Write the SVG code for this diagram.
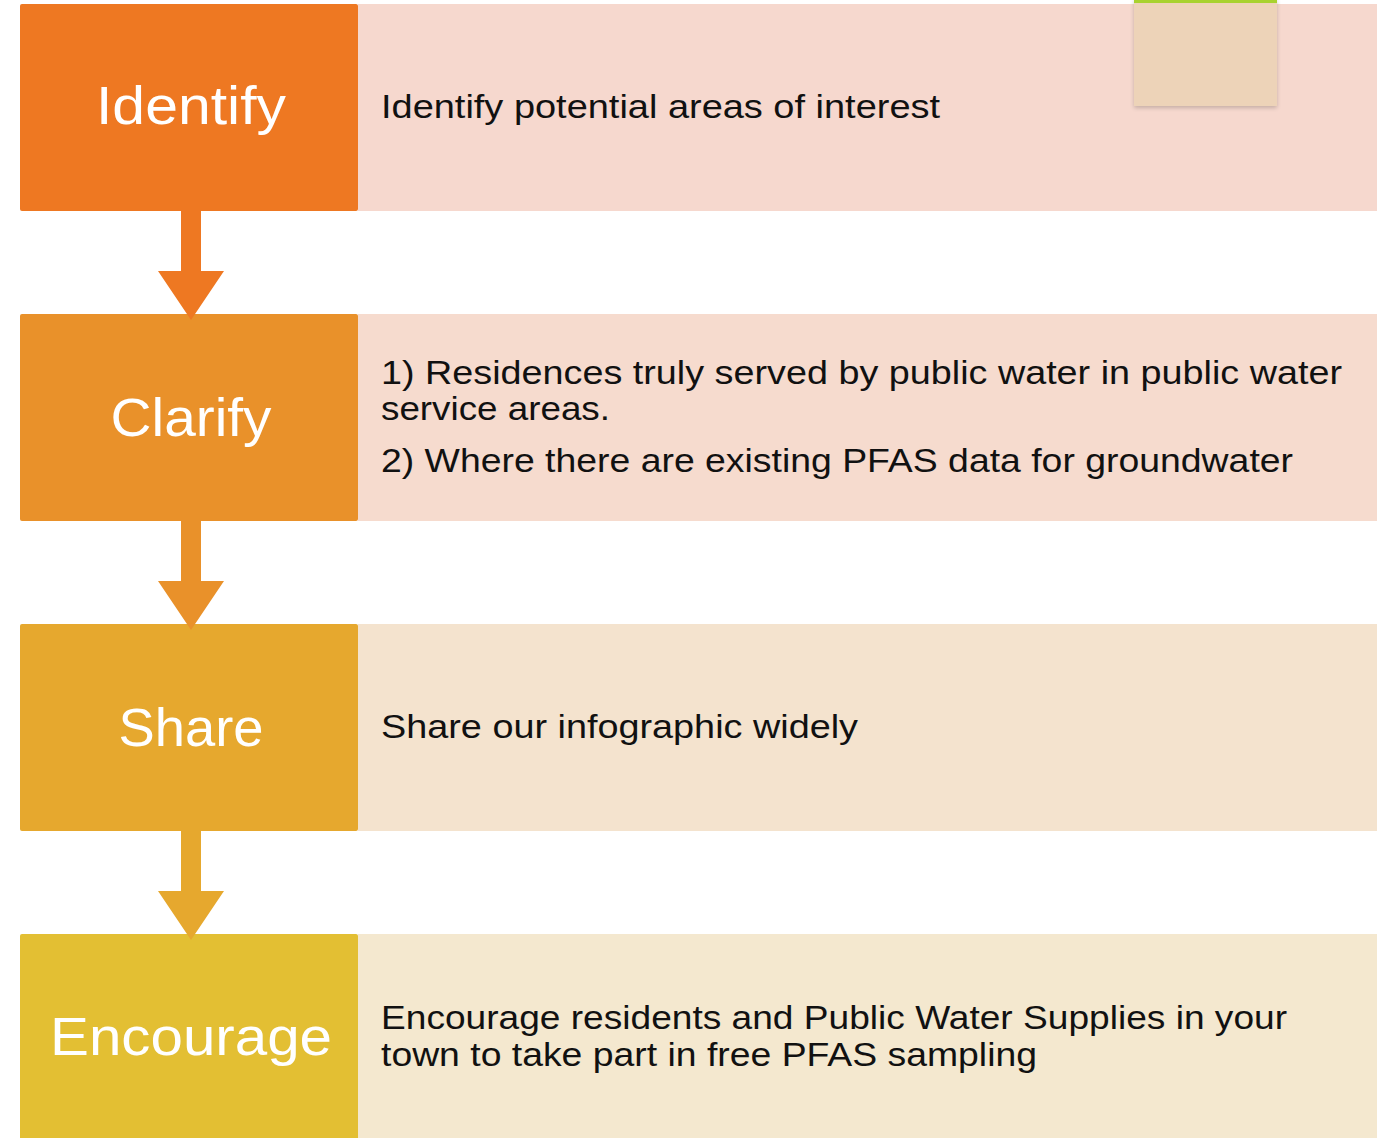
<svg xmlns="http://www.w3.org/2000/svg" width="1384" height="1138" viewBox="0 0 1384 1138">
<defs>
<style>
.lbl{font-family:"Liberation Sans",Arial,sans-serif;font-size:54px;fill:#fff;text-anchor:middle}
.txt{font-family:"Liberation Sans",Arial,sans-serif;font-size:33px;fill:#111}
</style>
<filter id="sh" x="-20%" y="-20%" width="140%" height="140%"><feGaussianBlur in="SourceAlpha" stdDeviation="2"/><feOffset dy="2"/><feComponentTransfer><feFuncA type="linear" slope="0.2"/></feComponentTransfer><feMerge><feMergeNode/><feMergeNode in="SourceGraphic"/></feMerge></filter>
</defs>
<rect width="1384" height="1138" fill="#fff"/>
<g id="row-identify">
<rect x="358" y="4" width="1019" height="207" fill="#F6D8CE"/>
<rect x="20" y="4" width="338" height="207" rx="2" fill="#EE7822"/>
<text class="lbl" x="191" y="124" textLength="190" lengthAdjust="spacingAndGlyphs">Identify</text>
<text class="txt" x="381" y="118" textLength="559" lengthAdjust="spacingAndGlyphs">Identify potential areas of interest</text>
</g>
<g id="row-clarify">
<rect x="358" y="314" width="1019" height="207" fill="#F6DBCE"/>
<rect x="20" y="314" width="338" height="207" rx="2" fill="#E9912A"/>
<text class="lbl" x="191" y="436" textLength="161" lengthAdjust="spacingAndGlyphs">Clarify</text>
<text class="txt" x="381" y="384" textLength="961" lengthAdjust="spacingAndGlyphs">1) Residences truly served by public water in public water</text>
<text class="txt" x="381" y="420" textLength="229" lengthAdjust="spacingAndGlyphs">service areas.</text>
<text class="txt" x="381" y="472" textLength="912" lengthAdjust="spacingAndGlyphs">2) Where there are existing PFAS data for groundwater</text>
</g>
<g id="row-share">
<rect x="358" y="624" width="1019" height="207" fill="#F4E3CE"/>
<rect x="20" y="624" width="338" height="207" rx="2" fill="#E6A82E"/>
<text class="lbl" x="191" y="746" textLength="145" lengthAdjust="spacingAndGlyphs">Share</text>
<text class="txt" x="381" y="738" textLength="477" lengthAdjust="spacingAndGlyphs">Share our infographic widely</text>
</g>
<g id="row-encourage">
<rect x="358" y="934" width="1019" height="210" fill="#F4E8CF"/>
<rect x="20" y="934" width="338" height="210" rx="2" fill="#E3BF33"/>
<text class="lbl" x="191" y="1055" textLength="282" lengthAdjust="spacingAndGlyphs">Encourage</text>
<text class="txt" x="381" y="1029" textLength="906" lengthAdjust="spacingAndGlyphs">Encourage residents and Public Water Supplies in your</text>
<text class="txt" x="381" y="1066" textLength="656" lengthAdjust="spacingAndGlyphs">town to take part in free PFAS sampling</text>
</g>
<g id="connectors">
<polygon points="181,211 201,211 201,271 224,271 191,320 158,271 181,271" fill="#EE7822"/>
<polygon points="181,521 201,521 201,581 224,581 191,630 158,581 181,581" fill="#E9912A"/>
<polygon points="181,831 201,831 201,891 224,891 191,940 158,891 181,891" fill="#E6A82E"/>
</g>
<g id="decoration">
<rect x="1134" y="-2" width="143" height="108" fill="#EDD3B8" filter="url(#sh)"/>
<rect x="1134" y="-2" width="143" height="5" fill="#A8D22F"/>
</g>
</svg>
